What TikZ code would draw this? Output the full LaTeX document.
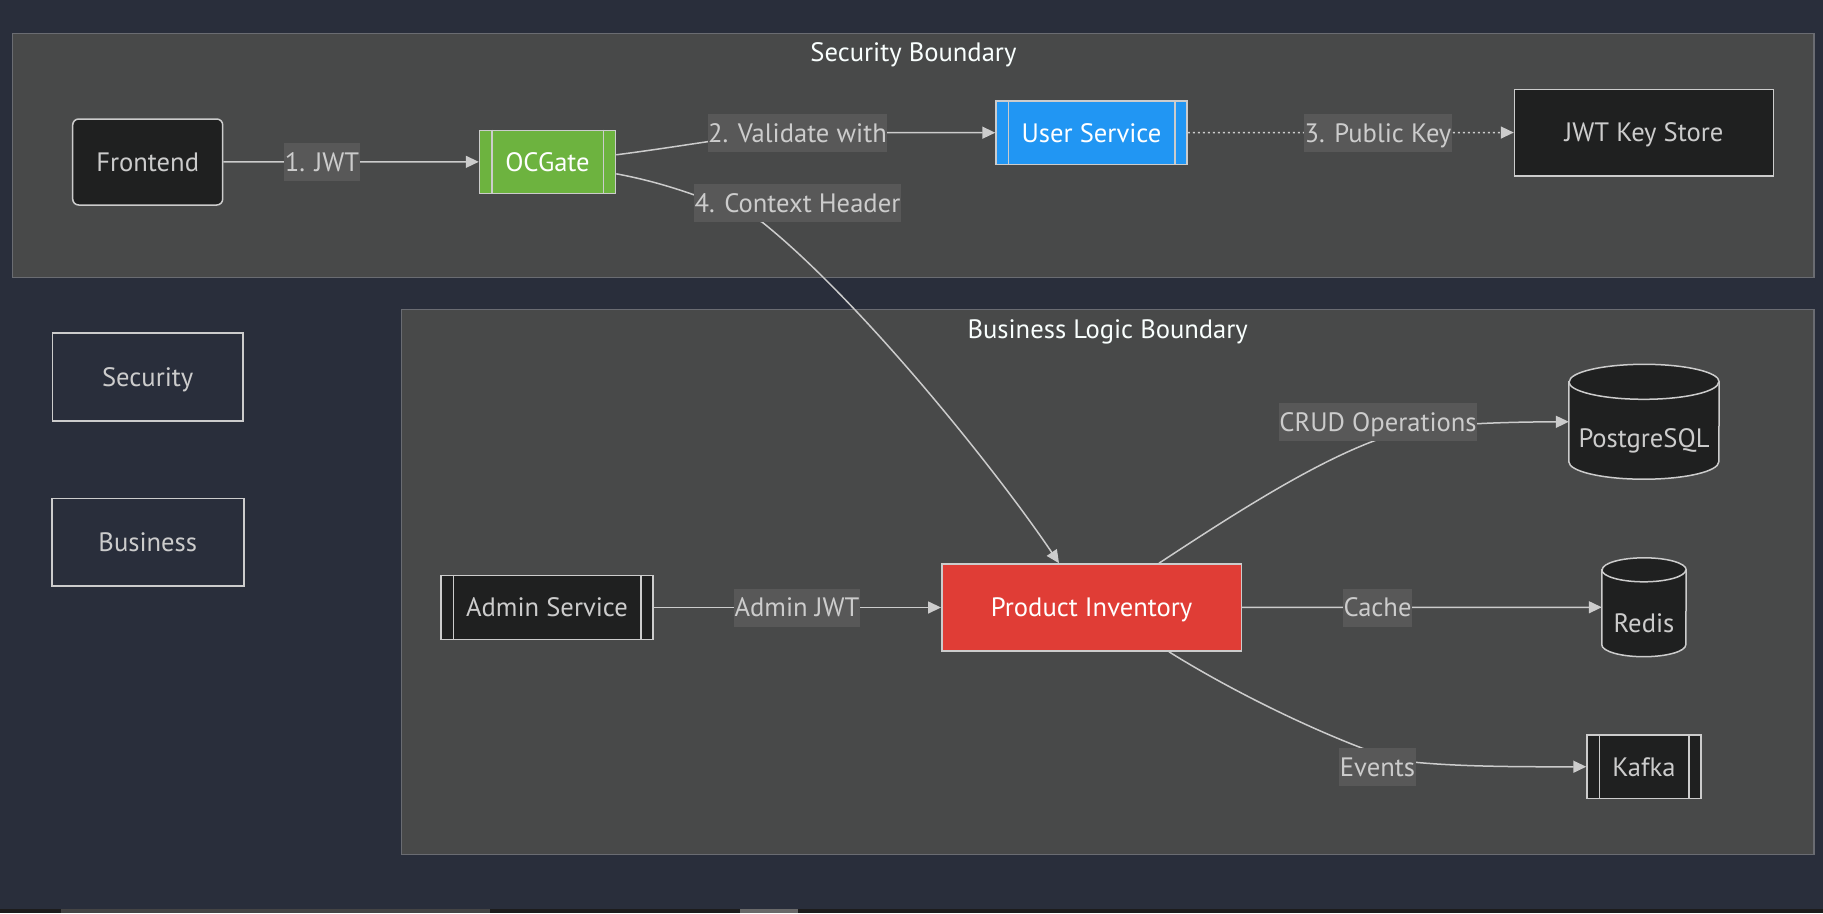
\documentclass[tikz,border=0pt]{standalone}
\usepackage{fontspec}
\setmainfont{PT Sans}
\usetikzlibrary{arrows.meta}

\definecolor{pagebg}{HTML}{292E3B}
\definecolor{clusterbg}{HTML}{484949}
\definecolor{clusterline}{HTML}{6A6C72}
\definecolor{nodebg}{HTML}{1F2020}
\definecolor{lineclr}{HTML}{CCCCCC}
\definecolor{labelbg}{HTML}{585858}
\definecolor{gatefill}{HTML}{6DB33F}
\definecolor{userfill}{HTML}{2196F3}
\definecolor{invfill}{HTML}{E03D36}
\definecolor{titleclr}{HTML}{F9FFFE}
\definecolor{barbg}{HTML}{1C1C1C}
\definecolor{barthumb}{HTML}{444444}

\pgfdeclarelayer{bg}
\pgfdeclarelayer{edges}
\pgfsetlayers{bg,edges,main}

% cylinder outline round a named node: name, x radius, y radius
\newcommand{\drawcyl}[3]{%
  \filldraw[box, fill=nodebg] ([yshift=-#3]#1.north west) -- ([yshift=#3]#1.south west)
    arc[start angle=180, end angle=360, x radius=#2, y radius=#3]
    -- ([yshift=-#3]#1.north east)
    arc[start angle=0, end angle=180, x radius=#2, y radius=#3] -- cycle;
  \draw[box] ([yshift=-#3]#1.north west) arc[start angle=180, end angle=360, x radius=#2, y radius=#3];
}

\begin{document}
\begin{tikzpicture}[x=1pt, y=-1pt,
  font=\fontsize{26.6}{31}\selectfont,
  box/.style={draw=lineclr, line width=1.5pt},
  svc/.style={box, fill=nodebg, text=lineclr, text height=18.8pt, text depth=0pt, inner sep=0pt},
  legendbox/.style={svc, fill=pagebg},
  elabel/.style={fill=labelbg, text=lineclr, text height=18.8pt, text depth=0pt, inner xsep=0.5pt, inner ysep=0pt, minimum height=38pt},
  cluster/.style={draw=clusterline, fill=clusterbg, line width=1.2pt},
  ctitle/.style={text=titleclr, text height=18.8pt, text depth=0pt, inner sep=0pt},
  edge/.style={draw=lineclr, line width=1.5pt, -{Triangle[length=13pt,width=12pt]}},
  keyedge/.style={edge, dash pattern=on 2pt off 3pt}]

\useasboundingbox (0,0) rectangle (1823,913);

\begin{pgfonlayer}{bg}
\fill[pagebg] (0,0) rectangle (1823,913);
\fill[barbg] (0,909) rectangle (1823,913);
\fill[barthumb] (60.5,909) rectangle (489.5,913);
\fill[barthumb!80!white] (739.5,909) rectangle (797.7,913);
\draw[cluster] (12.8,33.3) rectangle (1814,277.7);
\draw[cluster] (401.4,309.4) rectangle (1814,854.3);
\end{pgfonlayer}

% boundary titles
\node[ctitle] (sectitle) at (913.4,52.5) {Security Boundary};
\node[ctitle] (biztitle) at (1107.7,328.7) {Business Logic Boundary};

% security nodes
\node[svc, rounded corners=6pt, minimum width=150pt, minimum height=86pt] (frontend) at (147.7,162) {Frontend};
\node[svc, fill=gatefill, text=white, minimum width=136pt, minimum height=63pt] (ocgate) at (547.5,161.8) {OCGate};
\node[svc, fill=userfill, text=white, minimum width=191pt, minimum height=63.3pt] (usersvc) at (1091.5,132.7) {User Service};
\node[svc, minimum width=259pt, minimum height=86.5pt] (jwtstore) at (1644,132.5) {JWT Key Store};

% legend
\node[legendbox, minimum width=190.6pt, minimum height=88pt] (secleg) at (147.7,376.8) {Security};
\node[legendbox, minimum width=192pt, minimum height=87.6pt] (bizleg) at (147.8,542.4) {Business};

% business nodes
\node[svc, minimum width=212pt, minimum height=63.7pt] (admin) at (547,607.5) {Admin Service};
\node[svc, fill=invfill, text=white, minimum width=299.6pt, minimum height=87.1pt] (pinv) at (1091.6,607.5) {Product Inventory};
\node[svc, minimum width=114pt, minimum height=63.4pt] (kafka) at (1644,766.7) {Kafka};

\node[inner sep=0pt, minimum width=150pt, minimum height=114.5pt] (pg) at (1644,421.75) {};
\drawcyl{pg}{75pt}{17.5pt}
\node[text=lineclr, text height=18.8pt, text depth=0pt, inner sep=0pt] (pgtext) at ([yshift=-16pt]pg.center) {PostgreSQL};
\node[inner sep=0pt, minimum width=84pt, minimum height=98.5pt] (redis) at (1644,607.25) {};
\drawcyl{redis}{42pt}{12pt}
\node[text=lineclr, text height=18.8pt, text depth=0pt, inner sep=0pt] (redistext) at ([yshift=-16pt]redis.center) {Redis};

\foreach \n in {ocgate,usersvc,admin,kafka} {
  \draw[box] ([xshift=13pt]\n.north west) -- ([xshift=13pt]\n.south west);
  \draw[box] ([xshift=-13pt]\n.north east) -- ([xshift=-13pt]\n.south east);
}

% edge labels
\node[elabel] (ljwt) at (322,161.7) {1. JWT};
\node[elabel] (lvalid) at (797.5,132.7) {2. Validate with};
\node[elabel] (lctx) at (797.5,202.7) {4. Context Header};
\node[elabel] (lkey) at (1378,132.7) {3. Public Key};
\node[elabel] (ladmin) at (797,607.5) {Admin JWT};
\node[elabel] (lcrud) at (1378,422) {CRUD Operations};
\node[elabel] (lcache) at (1377.5,607.5) {Cache};
\node[elabel] (levents) at (1377.5,767) {Events};

\begin{pgfonlayer}{edges}
\draw[edge] (frontend) -- (ocgate);
\draw[edge] ([yshift=7pt]ocgate.east) .. controls (700,144) and (750,133) .. (lvalid.center) -- (usersvc.west);
\draw[keyedge] (usersvc) -- (jwtstore);
\draw[edge] ([yshift=-12pt]ocgate.east) .. controls (660,182) and (700,195) .. (762,222)
  .. controls (862,302) and (999,474) .. ([xshift=-32.6pt]pinv.north);
\draw[edge] (admin) -- (pinv);
\draw[edge] ([xshift=67.4pt]pinv.north) .. controls (1240,510) and (1340,445) .. (1410,430)
  .. controls (1450,424) and (1500,422) .. (pg.west);
\draw[edge] (pinv) -- (redis);
\draw[edge] ([xshift=77.4pt]pinv.south) .. controls (1230,690) and (1320,735) .. (1395,760)
  .. controls (1440,766) and (1500,767) .. (kafka.west);
\end{pgfonlayer}

\end{tikzpicture}
\end{document}
